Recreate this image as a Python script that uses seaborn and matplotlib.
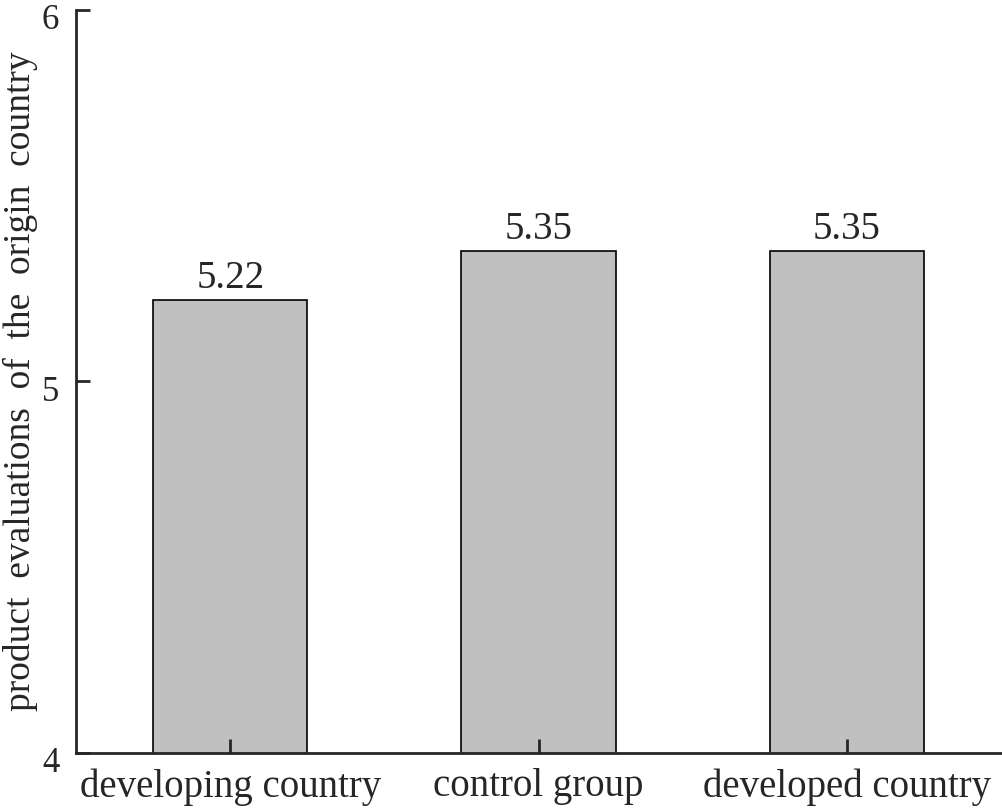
import seaborn as sns
import matplotlib.pyplot as plt
import matplotlib.transforms as mtransforms
import pandas as pd

sns.set_style("ticks")
plt.rcParams["font.family"] = ["Liberation Serif", "DejaVu Serif"]

groups = ["developing country", "control group", "developed country"]
means = [5.22, 5.35, 5.35]
df = pd.DataFrame({"group": groups, "mean": means})

fig = plt.figure(figsize=(10.03, 8.10), dpi=100)
ax = fig.add_axes([0.0758, 0.0704, 0.9222, 0.9173])

sns.barplot(data=df, x="group", y="mean", color="#c0c0c0", edgecolor="black",
            linewidth=1.2, width=0.5, saturation=1, ax=ax)
ax.set_axisbelow(False)

for i, v in enumerate(means):
    ax.text(i, v + 0.008, f"{v:.2f}", ha="center", va="bottom", fontsize=28)

ax.set_ylim(4, 6)
ax.set_xlim(-0.5, 2.5)
ax.set_yticks([4, 5, 6])
ax.tick_params(axis="both", direction="in", length=10, width=2)
ax.tick_params(axis="x", labelsize=28, pad=11)
ax.tick_params(axis="y", labelsize=25, pad=12)
ax.set_xlabel("")
ax.set_ylabel("product  evaluations  of  the  origin  country", fontsize=27, labelpad=3)
for s in ["top", "right"]:
    ax.spines[s].set_visible(False)
for s in ["left", "bottom"]:
    ax.spines[s].set_linewidth(2)

# nudge the y tick labels down a little so the top one stays inside
shift = mtransforms.ScaledTranslation(0, -5 / 72, fig.dpi_scale_trans)
for lbl in ax.get_yticklabels():
    lbl.set_transform(lbl.get_transform() + shift)

fig.savefig("out.png", dpi=100)
